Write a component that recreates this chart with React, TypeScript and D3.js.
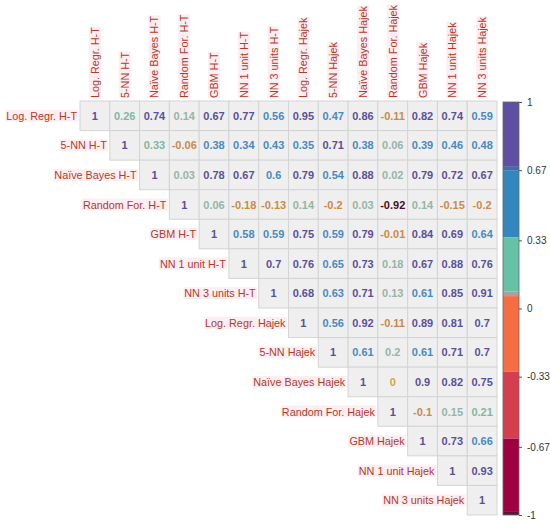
import React, { useEffect, useRef } from 'react';
import * as d3 from 'd3';

const labels = [
 'Log. Regr. H-T', '5-NN H-T', 'Naïve Bayes H-T', 'Random For. H-T', 'GBM H-T',
 'NN 1 unit H-T', 'NN 3 units H-T', 'Log. Regr. Hajek', '5-NN Hajek', 'Naïve Bayes Hajek',
 'Random For. Hajek', 'GBM Hajek', 'NN 1 unit Hajek', 'NN 3 units Hajek',
];

// upper triangle, each row starts at the diagonal
const rows: number[][] = [
 [1, 0.26, 0.74, 0.14, 0.67, 0.77, 0.56, 0.95, 0.47, 0.86, -0.11, 0.82, 0.74, 0.59],
 [1, 0.33, -0.06, 0.38, 0.34, 0.43, 0.35, 0.71, 0.38, 0.06, 0.39, 0.46, 0.48],
 [1, 0.03, 0.78, 0.67, 0.6, 0.79, 0.54, 0.88, 0.02, 0.79, 0.72, 0.67],
 [1, 0.06, -0.18, -0.13, 0.14, -0.2, 0.03, -0.92, 0.14, -0.15, -0.2],
 [1, 0.58, 0.59, 0.75, 0.59, 0.79, -0.01, 0.84, 0.69, 0.64],
 [1, 0.7, 0.76, 0.65, 0.73, 0.18, 0.67, 0.88, 0.76],
 [1, 0.68, 0.63, 0.71, 0.13, 0.61, 0.85, 0.91],
 [1, 0.56, 0.92, -0.11, 0.89, 0.81, 0.7],
 [1, 0.61, 0.2, 0.61, 0.71, 0.7],
 [1, 0, 0.9, 0.82, 0.75],
 [1, -0.1, 0.15, 0.21],
 [1, 0.73, 0.66],
 [1, 0.93],
 [1],
];

const legendTicks = [1, 0.67, 0.33, 0, -0.33, -0.67, -1];

// colour bar bands: [from, to, colour]
const legendBands: [number, number, string][] = [
 [0.686, 1, '#5e4fa2'],
 [0.667, 0.686, '#3d6fae'],
 [0.344, 0.667, '#3288bd'],
 [0.083, 0.344, '#66c2a5'],
 [0.06, 0.083, '#a3a3a0'],
 [-0.306, 0.06, '#f46d43'],
 [-0.63, -0.306, '#d53e4f'],
 [-0.985, -0.63, '#9e0142'],
 [-1, -0.985, '#5b1636'],
];

const textColour = (v: number) => {
 if (v > 2 / 3) return '#5a5098';
 if (v > 1 / 3) return '#4a89bf';
 if (v > 0.2) return '#7fb8a0';
 if (v > 0) return '#96b5a6';
 if (v === 0) return '#d6a24a';
 if (v > -2 / 3) return '#c98a4c';
 return '#4a0d28';
};

export default function App() {
 const svgRef = useRef<SVGSVGElement>(null);

 useEffect(() => {
 if (!svgRef.current) return;
 const svg = d3.select(svgRef.current);
 svg.selectAll('*').remove();

 const n = labels.length;
 const x = d3.scaleBand<number>().domain(d3.range(n)).range([80, 497]);
 const y = d3.scaleBand<number>().domain(d3.range(n)).range([101, 515]);
 const font = 'Liberation Sans, Arial, sans-serif';
 const labSize = '10.8px';

 const cells = rows.flatMap((r, i) => r.map((v, k) => ({ i, j: i + k, v })));

 const g = svg.append('g');
 g.selectAll('rect.cell')
 .data(cells)
 .enter()
 .append('rect')
 .attr('x', d => x(d.j)!)
 .attr('y', d => y(d.i)!)
 .attr('width', x.bandwidth())
 .attr('height', y.bandwidth())
 .attr('fill', '#efefef')
 .attr('stroke', '#d4d4d4')
 .attr('stroke-width', 1);

 g.selectAll('text.num')
 .data(cells)
 .enter()
 .append('text')
 .attr('x', d => x(d.j)! + x.bandwidth() / 2)
 .attr('y', d => y(d.i)! + y.bandwidth() / 2)
 .attr('text-anchor', 'middle')
 .attr('dominant-baseline', 'central')
 .attr('font-family', font)
 .attr('font-size', '11px')
 .attr('font-weight', 'bold')
 .attr('fill', d => textColour(d.v))
 .text(d => String(d.v));

 // row labels
 const rowLab = svg.append('g');
 labels.forEach((name, i) => {
 const t = rowLab.append('text')
 .attr('x', x(i)! - 3)
 .attr('y', y(i)! + y.bandwidth() / 2)
 .attr('text-anchor', 'end')
 .attr('dominant-baseline', 'central')
 .attr('font-family', font)
 .attr('font-size', labSize)
 .attr('fill', '#b23a2c')
 .text(name);
 const bb = (t.node() as SVGTextElement).getBBox();
 rowLab.insert('rect', 'text')
 .attr('x', bb.x - 1).attr('y', bb.y)
 .attr('width', bb.width + 2).attr('height', bb.height)
 .attr('fill', '#fdeef2');
 });

 // column labels
 const colLab = svg.append('g');
 labels.forEach((name, j) => {
 const cx = x(j)! + x.bandwidth() / 2;
 const t = colLab.append('text')
 .attr('transform', `translate(${cx},98) rotate(-90)`)
 .attr('text-anchor', 'start')
 .attr('dominant-baseline', 'central')
 .attr('font-family', font)
 .attr('font-size', labSize)
 .attr('fill', '#b23a2c')
 .text(name);
 const bb = (t.node() as SVGTextElement).getBBox();
 colLab.insert('rect', 'text')
 .attr('transform', `translate(${cx},98) rotate(-90)`)
 .attr('x', bb.x).attr('y', bb.y)
 .attr('width', bb.width).attr('height', bb.height)
 .attr('fill', '#fdeef2');
 });

 // colour bar
 const ly = d3.scaleLinear().domain([-1, 1]).range([515, 102]);
 const bar = svg.append('g');
 bar.selectAll('rect')
 .data(legendBands)
 .enter()
 .append('rect')
 .attr('x', 503)
 .attr('y', d => ly(d[1]))
 .attr('width', 16)
 .attr('height', d => ly(d[0]) - ly(d[1]))
 .attr('fill', d => d[2]);
 bar.append('rect')
 .attr('x', 503).attr('y', ly(1)).attr('width', 16).attr('height', ly(-1) - ly(1))
 .attr('fill', 'none').attr('stroke', '#666').attr('stroke-width', 0.8);

 const axis = d3.axisRight(ly).tickValues(legendTicks).tickSize(3).tickFormat(d => String(d));
 const ax = svg.append('g').attr('transform', 'translate(519,0)').call(axis);
 ax.select('.domain').remove();
 ax.selectAll('line').attr('stroke', '#555');
 ax.selectAll('text')
 .attr('x', 8)
 .attr('font-family', font)
 .attr('font-size', '10px')
 .attr('fill', '#333');
 }, []);

 return (
 <svg
 ref={svgRef}
 width={550}
 height={526}
 style={{ position: 'absolute', left: 0, top: 0, background: '#fff' }}
 />
 );
}
